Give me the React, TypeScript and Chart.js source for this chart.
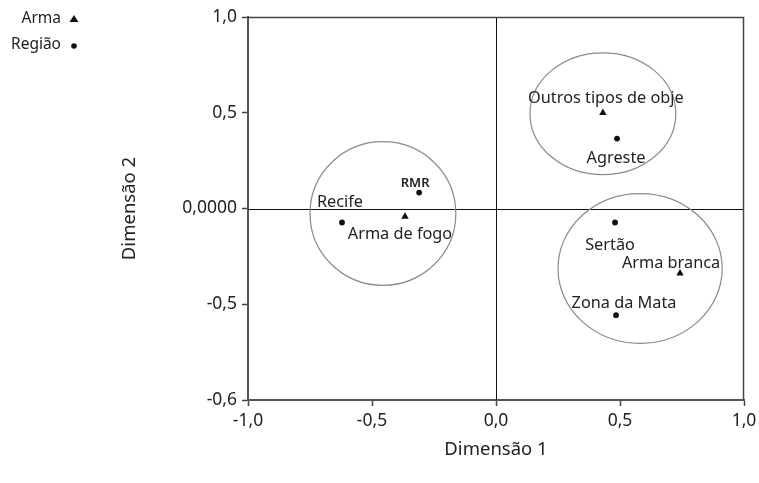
import React, { useEffect, useRef } from "react";
import { Chart, registerables } from "chart.js";

Chart.register(...registerables);

// ---- data ----
const armaLabels = ["Outros tipos de obje", "Arma de fogo", "Arma branca"];
const armaX = [0.431, -0.367, 0.742];
const armaY = [0.5, -0.042, -0.339];

const regiaoLabels = ["RMR", "Recife", "Agreste", "Sertão", "Zona da Mata"];
const regiaoX = [-0.31, -0.621, 0.488, 0.48, 0.484];
const regiaoY = [0.083, -0.073, 0.365, -0.073, -0.557];

const xTickValues = [-1, -0.5, 0, 0.5, 1];
const xTickLabels = ["-1,0", "-0,5", "0,0", "0,5", "1,0"];
const yTickValues = [-1, -0.5, 0, 0.5, 1];
const yTickLabels = ["-0,6", "-0,5", "0,0000", "0,5", "1,0"];

// group ellipses (data units)
const groupCx = [-0.456, 0.431, 0.581];
const groupCy = [-0.026, 0.495, -0.313];
const groupRx = [0.294, 0.294, 0.331];
const groupRy = [0.375, 0.318, 0.391];

// ---- label placement (style, px offsets) ----
const armaLabelOffsets = [
  [3, -14],
  [-5, 18],
  [-9, -10],
];
const regiaoLabelOffsets = [
  [-4, -9],
  [-2, -20],
  [-1, 20],
  [-5, 23],
  [8, -12],
];

const FONT = "'Noto Sans', sans-serif";
const TEXT = "#222";

const decor = {
  id: "decor",
  beforeDatasetsDraw(chart: any) {
    const { ctx, chartArea: a, scales } = chart;
    const x = scales.x;
    const y = scales.y;
    ctx.save();
    ctx.strokeStyle = "#111";
    ctx.lineWidth = 1;
    const x0 = Math.round(x.getPixelForValue(0)) + 0.5;
    const y0 = Math.round(y.getPixelForValue(0)) + 0.5;
    ctx.beginPath();
    ctx.moveTo(x0, a.top);
    ctx.lineTo(x0, a.bottom);
    ctx.moveTo(a.left, y0);
    ctx.lineTo(a.right, y0);
    ctx.stroke();
    ctx.strokeStyle = "#444";
    ctx.lineWidth = 1.5;
    ctx.beginPath();
    ctx.moveTo(a.left, a.top + 0.5);
    ctx.lineTo(a.right - 0.5, a.top + 0.5);
    ctx.lineTo(a.right - 0.5, a.bottom);
    ctx.stroke();
    ctx.strokeStyle = "#8a8a8a";
    ctx.lineWidth = 1.2;
    for (let i = 0; i < groupCx.length; i++) {
      const cx = x.getPixelForValue(groupCx[i]);
      const cy = y.getPixelForValue(groupCy[i]);
      const rx = Math.abs(x.getPixelForValue(groupCx[i] + groupRx[i]) - cx);
      const ry = Math.abs(y.getPixelForValue(groupCy[i] + groupRy[i]) - cy);
      ctx.beginPath();
      ctx.ellipse(cx, cy, rx, ry, 0, 0, Math.PI * 2);
      ctx.stroke();
    }
    ctx.restore();
  },
  afterDatasetsDraw(chart: any) {
    const { ctx } = chart;
    ctx.save();
    ctx.fillStyle = TEXT;
    ctx.textAlign = "center";
    ctx.textBaseline = "middle";
    const draw = (dsIndex: number, labels: string[], offs: number[][]) => {
      const meta = chart.getDatasetMeta(dsIndex);
      meta.data.forEach((el: any, i: number) => {
        const small = labels[i] === "RMR";
        ctx.font = small ? `600 13px ${FONT}` : `16.3px ${FONT}`;
        ctx.fillText(labels[i], el.x + offs[i][0], el.y + offs[i][1]);
      });
    };
    draw(0, armaLabels, armaLabelOffsets);
    draw(1, regiaoLabels, regiaoLabelOffsets);
    ctx.restore();
  },
  afterDraw(chart: any) {
    const { ctx } = chart;
    ctx.save();
    ctx.font = `15.5px ${FONT}`;
    ctx.textAlign = "right";
    ctx.textBaseline = "middle";
    const items = chart.data.datasets.map((d: any) => d.label);
    const rows = [19, 45];
    items.forEach((lab: string, i: number) => {
      ctx.fillStyle = TEXT;
      ctx.fillText(lab, 61, rows[i]);
      ctx.fillStyle = "#111";
      ctx.beginPath();
      if (i === 0) {
        ctx.moveTo(74, rows[i] - 4);
        ctx.lineTo(78.5, rows[i] + 3);
        ctx.lineTo(69.5, rows[i] + 3);
        ctx.closePath();
      } else {
        ctx.arc(74, rows[i] + 1, 2.8, 0, Math.PI * 2);
      }
      ctx.fill();
    });
    ctx.restore();
  },
};

export default function App() {
  const ref = useRef<HTMLCanvasElement | null>(null);

  useEffect(() => {
    if (!ref.current) return;
    const chart = new Chart(ref.current, {
      type: "scatter",
      data: {
        datasets: [
          {
            label: "Arma",
            data: armaX.map((v, i) => ({ x: v, y: armaY[i] })),
            pointStyle: "triangle",
            pointRadius: 4.3,
            backgroundColor: "#111",
            borderColor: "#111",
            borderWidth: 0,
          },
          {
            label: "Região",
            data: regiaoX.map((v, i) => ({ x: v, y: regiaoY[i] })),
            pointStyle: "circle",
            pointRadius: 2.9,
            backgroundColor: "#111",
            borderColor: "#111",
            borderWidth: 0,
          },
        ],
      },
      options: {
        responsive: false,
        animation: false,
        layout: { padding: { top: 17, right: 15, left: 0, bottom: 0 } },
        plugins: {
          legend: { display: false },
          tooltip: { enabled: false },
        },
        scales: {
          x: {
            type: "linear",
            min: -1,
            max: 1,
            afterBuildTicks: (s: any) => {
              s.ticks = xTickValues.map((v) => ({ value: v }));
            },
            afterFit: (s: any) => {
              s.height = 83;
              s.paddingLeft = 0;
              s.paddingRight = 0;
            },
            ticks: {
              autoSkip: false,
              maxRotation: 0,
              padding: 5,
              color: TEXT,
              font: { family: FONT, size: 17.5 },
              callback: (v: any) => xTickLabels[xTickValues.indexOf(Number(v))],
            },
            grid: {
              drawOnChartArea: false,
              drawTicks: true,
              tickLength: 6,
              color: "#444",
              tickWidth: 1.5,
            },
            border: { display: true, color: "#555", width: 2 },
            title: {
              display: true,
              text: "Dimensão 1",
              color: TEXT,
              font: { family: FONT, size: 18.5 },
              padding: { top: 0, bottom: 22 },
            },
          },
          y: {
            type: "linear",
            min: -1,
            max: 1,
            afterBuildTicks: (s: any) => {
              s.ticks = yTickValues.map((v) => ({ value: v }));
            },
            afterFit: (s: any) => {
              s.width = 248;
              s.paddingTop = 0;
              s.paddingBottom = 0;
            },
            ticks: {
              autoSkip: false,
              padding: 5,
              color: TEXT,
              font: { family: FONT, size: 17.5 },
              callback: (v: any) => yTickLabels[yTickValues.indexOf(Number(v))],
            },
            grid: {
              drawOnChartArea: false,
              drawTicks: true,
              tickLength: 6,
              color: "#444",
              tickWidth: 1.5,
            },
            border: { display: true, color: "#555", width: 2 },
            title: {
              display: true,
              text: "Dimensão 2",
              color: TEXT,
              font: { family: FONT, size: 18.5 },
              padding: { top: 119, bottom: 0 },
            },
          },
        },
      },
      plugins: [decor],
    } as any);
    return () => chart.destroy();
  }, []);

  return (
    <div style={{ position: "fixed", left: 0, top: 0, width: 759, height: 483, background: "#fff" }}>
      <canvas ref={ref} width={759} height={483} />
    </div>
  );
}
